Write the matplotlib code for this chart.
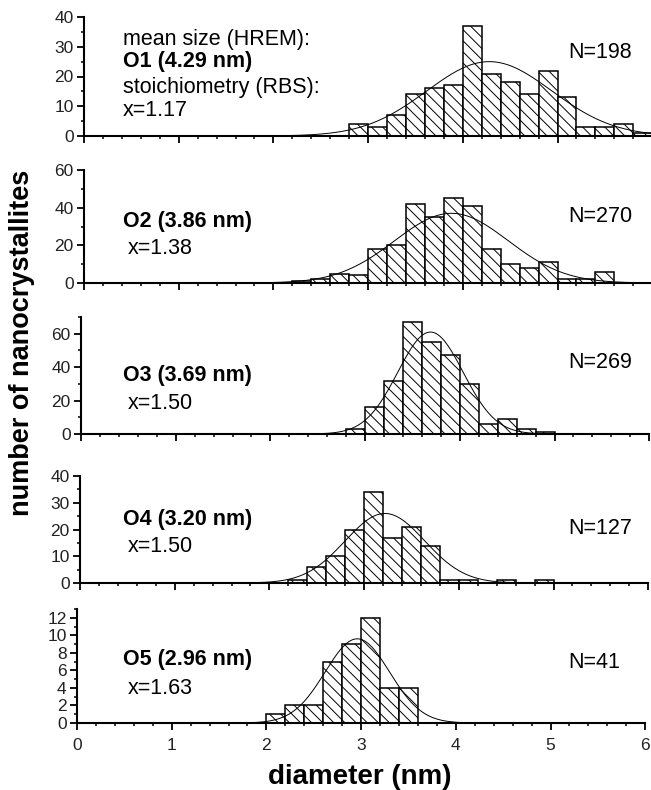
import matplotlib
matplotlib.use("Agg")
import matplotlib.pyplot as plt
from matplotlib.ticker import MultipleLocator
import numpy as np

plt.rcParams['font.family'] = ['Liberation Sans', 'DejaVu Sans']
plt.rcParams['hatch.linewidth'] = 0.7

# histogram data, bin width 0.2 nm (left edges + counts)
bin_w = 0.2
o1_edges = [2.8, 3.0, 3.2, 3.4, 3.6, 3.8, 4.0, 4.2, 4.4, 4.6, 4.8, 5.0, 5.2, 5.4, 5.6, 5.8]
o1_counts = [4, 3, 7, 14, 16, 17, 37, 21, 18, 14, 22, 13, 3, 3, 4, 1]
o2_edges = [2.2, 2.4, 2.6, 2.8, 3.0, 3.2, 3.4, 3.6, 3.8, 4.0, 4.2, 4.4, 4.6, 4.8, 5.0, 5.2, 5.4]
o2_counts = [1, 2, 5, 4, 18, 20, 42, 35, 45, 41, 18, 10, 8, 11, 2, 2, 6]
o3_edges = [2.8, 3.0, 3.2, 3.4, 3.6, 3.8, 4.0, 4.2, 4.4, 4.6, 4.8]
o3_counts = [3, 16, 32, 67, 55, 47, 30, 6, 9, 3, 1]
o4_edges = [2.2, 2.4, 2.6, 2.8, 3.0, 3.2, 3.4, 3.6, 3.8, 4.0, 4.2, 4.4, 4.6, 4.8]
o4_counts = [1, 6, 10, 20, 34, 17, 21, 14, 1, 1, 0, 1, 0, 1]
o5_edges = [2.0, 2.2, 2.4, 2.6, 2.8, 3.0, 3.2, 3.4]
o5_counts = [1, 2, 2, 7, 9, 12, 4, 4]

# gaussian fits: centre, width, height
fit_mu = [4.28, 3.88, 3.69, 3.22, 2.96]
fit_sigma = [0.66, 0.6, 0.345, 0.42, 0.34]
fit_amp = [25, 37, 61, 26, 9.6]

names = ["O1 (4.29 nm)", "O2 (3.86 nm)", "O3 (3.69 nm)", "O4 (3.20 nm)", "O5 (2.96 nm)"]
stoich = ["x=1.17", "x=1.38", "x=1.50", "x=1.50", "x=1.63"]
n_labels = ["N=198", "N=270", "N=269", "N=127", "N=41"]
y_max = [40, 60, 70, 40, 13]
y_major = [10, 20, 20, 10, 2]
y_minor = [5, 10, 10, 5, 1]

edges_all = [o1_edges, o2_edges, o3_edges, o4_edges, o5_edges]
counts_all = [o1_counts, o2_counts, o3_counts, o4_counts, o5_counts]

W, H = 651, 790
fig = plt.figure(figsize=(W / 100, H / 100), dpi=100)

# panel placement in pixels: left of x=0, y of zero line, y of top
boxes = [(84, 136, 17), (84, 283, 170), (81, 434, 317), (80, 583, 476), (77, 723, 609)]
nm_px = 94.7
# text rows (pixel y) for name / stoichiometry / N
name_y = [62, 222, 375, 520, 660]
x_y = [110, 248, 403, 547, 689]
n_y = [53, 217, 363, 528, 663]

xs = np.linspace(0, 6, 600)
axes = []
for i in range(5):
    x0, yb, yt = boxes[i]
    ax = fig.add_axes([x0 / W, 1 - yb / H, 6 * nm_px / W, (yb - yt) / H])
    ax.bar(edges_all[i], counts_all[i], width=bin_w, align='edge',
           facecolor='white', edgecolor='black', hatch='\\\\\\', lw=1.1, zorder=2)
    fit = fit_amp[i] * np.exp(-(xs - fit_mu[i]) ** 2 / (2 * fit_sigma[i] ** 2))
    ax.plot(xs, fit, color='black', lw=0.7, zorder=3)
    ax.set_xlim(0, 6)
    ax.set_ylim(0, y_max[i])
    ax.xaxis.set_major_locator(MultipleLocator(1))
    ax.xaxis.set_minor_locator(MultipleLocator(0.2))
    ax.yaxis.set_major_locator(MultipleLocator(y_major[i]))
    ax.yaxis.set_minor_locator(MultipleLocator(y_minor[i]))
    for s in ['top', 'right']:
        ax.spines[s].set_visible(False)
    for s in ['left', 'bottom']:
        ax.spines[s].set_linewidth(1.5)
    ax.tick_params(which='major', direction='out', length=5, width=1.3,
                   labelsize=12.5, pad=2.5, labelcolor='#222222')
    ax.tick_params(axis='x', pad=6)
    ax.tick_params(which='minor', direction='out', length=2.5, width=1.1)
    if i < 4:
        ax.tick_params(axis='x', labelbottom=False)
    ax.patch.set_alpha(0)
    axes.append(ax)

    fig.text(123 / W, 1 - name_y[i] / H, names[i], fontsize=15.5, fontweight='bold', va='center')
    fig.text((123 if i == 0 else 128) / W, 1 - x_y[i] / H, stoich[i], fontsize=15.5, va='center')
    fig.text(568 / W, 1 - n_y[i] / H, n_labels[i], fontsize=15.5, va='center')

fig.text(123 / W, 1 - 39 / H, "mean size (HREM):", fontsize=15.5, va='center')
fig.text(123 / W, 1 - 87 / H, "stoichiometry (RBS):", fontsize=15.5, va='center')

fig.text(22 / W, 1 - 343 / H, "number of nanocrystallites", fontsize=19.5,
         fontweight='bold', rotation=90, ha='center', va='center')
fig.text(360 / W, 1 - 777 / H, "diameter (nm)", fontsize=20,
         fontweight='bold', ha='center', va='center')

fig.savefig("out.png", dpi=100)
